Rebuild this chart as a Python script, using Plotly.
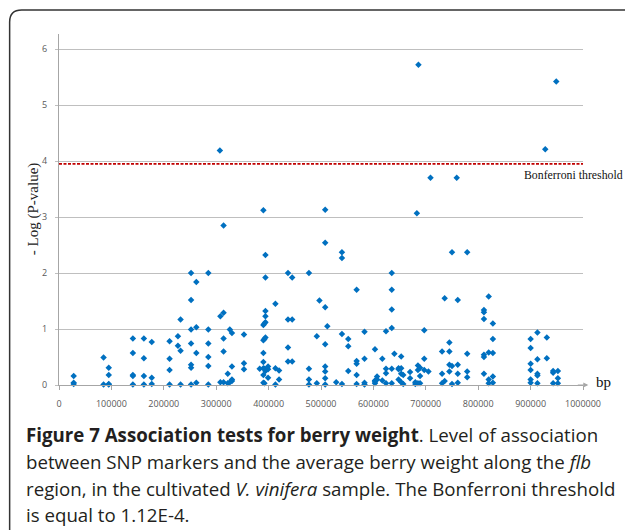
import plotly.graph_objects as go

# ---- data ----
bp_positions = [
    28000, 28000, 28000,
    85000, 85000,
    95000, 95000, 95000, 95000,
    141000, 141000, 141000, 141000, 141000,
    162000, 162000, 162000, 162000,
    177000, 177000, 177000,
    211000, 211000, 211000, 211000,
    227000, 227000,
    232000, 232000, 232000,
    252000, 252000, 252000, 252000, 252000, 252000, 252000,
    262000, 262000, 262000, 262000,
    285000, 285000, 285000, 285000, 285000, 285000,
    307000,
    308000, 308000,
    314000, 314000, 314000, 314000, 314000,
    322000, 322000,
    326000, 326000,
    330000, 330000, 330000, 330000,
    353000, 353000, 353000,
    383000,
    390000, 390000, 390000, 390000, 390000, 390000, 390000, 390000,
    392000, 392000, 392000, 392000,
    394000, 394000, 394000, 394000, 394000, 394000, 394000,
    399000, 399000, 399000,
    413000, 413000, 413000,
    420000, 420000,
    437000, 437000, 437000, 437000,
    445000, 445000, 445000,
    477000, 477000, 477000, 477000,
    492000, 492000,
    497000,
    508000, 508000, 508000, 508000, 508000, 508000, 508000, 508000,
    512000,
    529000,
    540000, 540000, 540000, 540000,
    552000, 552000, 552000,
    568000, 568000, 568000, 568000, 568000,
    583000, 583000, 583000, 583000,
    603000, 603000, 603000, 603000,
    607000, 607000,
    617000, 617000,
    624000, 624000, 624000, 624000,
    635000, 635000, 635000, 635000, 635000, 635000,
    640000,
    648000, 648000, 648000,
    653000, 653000, 653000, 653000,
    657000, 657000,
    670000, 670000,
    680000, 680000,
    683000,
    685000, 685000, 685000,
    686000,
    689000, 689000, 689000,
    697000, 697000, 697000,
    705000,
    709000,
    731000, 731000, 731000,
    736000, 736000,
    745000, 745000, 745000, 745000,
    750000, 750000, 750000,
    759000,
    761000, 761000, 761000, 761000,
    779000, 779000, 779000, 779000,
    811000, 811000, 811000, 811000, 811000, 811000,
    820000, 820000, 820000, 820000,
    828000, 828000, 828000, 828000, 828000,
    900000, 900000, 900000, 900000, 900000, 900000,
    913000, 913000, 913000, 913000, 913000,
    928000,
    931000, 931000,
    943000, 943000, 943000,
    949000,
    952000, 952000, 952000,
]
neg_log_p = [
    0.16, 0.04, 0.02,
    0.49, 0.01,
    0.31, 0.18, 0.02, 0.01,
    0.83, 0.57, 0.18, 0.16, 0.01,
    0.83, 0.48, 0.16, 0.01,
    0.77, 0.13, 0.02,
    0.78, 0.47, 0.27, 0.01,
    0.87, 0.70,
    1.17, 0.61, 0.01,
    2.00, 1.52, 0.99, 0.74, 0.36, 0.31, 0.01,
    1.84, 1.03, 0.57, 0.04,
    2.00, 0.99, 0.74, 0.50, 0.34, 0.01,
    4.19,
    1.23, 0.05,
    2.85, 1.29, 0.83, 0.60, 0.05,
    0.20, 0.03,
    0.99, 0.05,
    0.93, 0.33, 0.10, 0.07,
    0.90, 0.39, 0.28,
    0.29,
    3.12, 1.07, 0.80, 0.57, 0.41, 0.30, 0.18, 0.04,
    1.10, 0.82, 0.29, 0.03,
    2.32, 1.92, 1.32, 1.23, 1.12, 0.85, 0.25,
    0.33, 0.28, 0.13,
    1.45, 0.30, 0.01,
    0.26, 0.10,
    2.00, 1.17, 0.67, 0.42,
    1.92, 1.17, 0.42,
    2.00, 0.29, 0.10, 0.01,
    0.87, 0.03,
    1.51,
    3.13, 2.54, 1.39, 0.73, 0.33, 0.24, 0.12, 0.01,
    1.05,
    0.05,
    2.37, 2.27, 0.91, 0.02,
    0.82, 0.69, 0.25,
    1.70, 0.43, 0.38, 0.18, 0.02,
    0.95, 0.47, 0.04, 0.01,
    0.64, 0.08, 0.06, 0.03,
    0.15, 0.10,
    0.47, 0.08,
    0.96, 0.29, 0.21, 0.03,
    2.00, 1.70, 1.35, 1.02, 0.29, 0.03,
    0.56,
    0.30, 0.28, 0.10,
    0.51, 0.30, 0.20, 0.05,
    0.18, 0.02,
    0.23, 0.12,
    0.05, 0.02,
    3.07,
    0.27, 0.35, 0.03,
    5.72,
    0.31, 0.16, 0.03,
    0.98, 0.47, 0.27,
    0.24,
    3.70,
    0.60, 0.20, 0.03,
    1.55, 0.07,
    0.76, 0.60, 0.36, 0.24,
    2.37, 0.34, 0.02,
    3.70,
    1.52, 0.36, 0.20, 0.04,
    2.37, 0.56, 0.24, 0.14,
    1.34, 1.30, 1.18, 0.54, 0.50, 0.20,
    1.58, 0.58, 0.10, 0.03,
    1.10, 0.82, 0.57, 0.15, 0.04,
    0.82, 0.66, 0.38, 0.27, 0.10, 0.04,
    0.94, 0.46, 0.20, 0.17, 0.03,
    4.21,
    0.85, 0.48,
    0.25, 0.22, 0.03,
    5.42,
    0.25, 0.12, 0.03,
]
bonferroni_threshold = 3.95  # -log10(1.12E-4)
x_tick_values = [0, 100000, 200000, 300000, 400000, 500000, 600000, 700000, 800000, 900000, 1000000]
x_tick_labels = ["0", "100000", "200000", "300000", "400000", "500000", "600000", "700000", "800000", "900000", "1000000"]
y_tick_values = [0, 1, 2, 3, 4, 5, 6]

caption_lines = [
    "<b>Figure 7 Association tests for berry weight</b>. Level of association",
    "between SNP markers and the average berry weight along the <i>flb</i>",
    "region, in the cultivated <i>V. vinifera</i> sample. The Bonferroni threshold",
    "is equal to 1.12E-4.",
]

# ---- figure ----
fig = go.Figure()
fig.add_trace(go.Scatter(
    x=bp_positions, y=neg_log_p, mode="markers",
    marker=dict(symbol="diamond", size=5, color="#0070C0"),
    cliponaxis=False, showlegend=False, hoverinfo="x+y",
))

W, H = 625, 530
L, R, T, B = 59.3, 42.3, 34.0, 144.7
pw, ph = W - L - R, H - T - B

def px_x(p):
    return (p - L) / pw

def px_y(p):
    return (H - B - p) / ph

fig.update_layout(
    width=W, height=H,
    margin=dict(l=L, r=R, t=T, b=B, pad=0),
    paper_bgcolor="white", plot_bgcolor="white",
    font=dict(family="Open Sans", size=9, color="#595959"),
    xaxis=dict(
        range=[0, 1000000], tickmode="array", tickvals=x_tick_values, ticktext=x_tick_labels,
        showgrid=False, zeroline=False, showline=True, linecolor="#A6A6A6", linewidth=1,
        ticks="outside", ticklen=4, tickcolor="#A6A6A6", ticklabelstandoff=6,
        tickfont=dict(family="Open Sans", size=9, color="#595959"),
    ),
    yaxis=dict(
        range=[0, 6.27], tickmode="array", tickvals=y_tick_values,
        showgrid=True, gridcolor="#BFBFBF", gridwidth=1, zeroline=False,
        showline=True, linecolor="#A6A6A6", linewidth=1,
        ticks="outside", ticklen=3, tickcolor="#BFBFBF", ticklabelstandoff=6,
        tickfont=dict(family="Open Sans", size=9, color="#595959"),
    ),
)

# Bonferroni threshold line
fig.add_shape(type="line", xref="paper", yref="y", x0=0, x1=1,
              y0=bonferroni_threshold, y1=bonferroni_threshold,
              line=dict(color="#C00000", width=1.6, dash="3px,1.5px"))

# rounded frame (top and left borders)
x0, ytop, ybot, xr = px_x(10), px_y(10), px_y(535), px_x(632)
rx, ry = 12 / pw, 12 / ph
fig.add_shape(type="path", xref="paper", yref="paper",
              path=f"M {x0},{ybot} L {x0},{ytop - ry} Q {x0},{ytop} {x0 + rx},{ytop} L {xr},{ytop}",
              line=dict(color="#333333", width=1.5))

# x-axis arrow head
fig.add_annotation(xref="paper", yref="paper", x=px_x(588), y=0, ax=-12, ay=0,
                   text="", showarrow=True, arrowhead=2, arrowsize=1, arrowwidth=1,
                   arrowcolor="#A6A6A6")

# axis titles / labels
fig.add_annotation(xref="paper", yref="paper", x=px_x(34), y=0.5, text="- Log (P-value)",
                   textangle=-90, showarrow=False, xanchor="center", yanchor="middle",
                   font=dict(family="Liberation Serif", size=15, color="#222222"))
fig.add_annotation(xref="paper", yref="y", x=px_x(522), y=3.76, text="Bonferroni threshold",
                   showarrow=False, xanchor="left", yanchor="middle",
                   font=dict(family="Liberation Serif", size=11.8, color="#111111"))
fig.add_annotation(xref="paper", yref="paper", x=px_x(594), y=px_y(382), text="bp",
                   showarrow=False, xanchor="left", yanchor="middle",
                   font=dict(family="Liberation Serif", size=15, color="#111111"))

# caption
caption_y = [435, 462, 489, 515]
for line, cy in zip(caption_lines, caption_y):
    fig.add_annotation(xref="paper", yref="paper", x=px_x(24), y=px_y(cy), text=line,
                       showarrow=False, xanchor="left", yanchor="middle",
                       font=dict(family="Open Sans", size=18.7, color="#231F20"))

fig.write_html("out.html", config={"displayModeBar": False},
               post_script="document.body.style.margin='0';document.body.style.overflow='hidden';")
